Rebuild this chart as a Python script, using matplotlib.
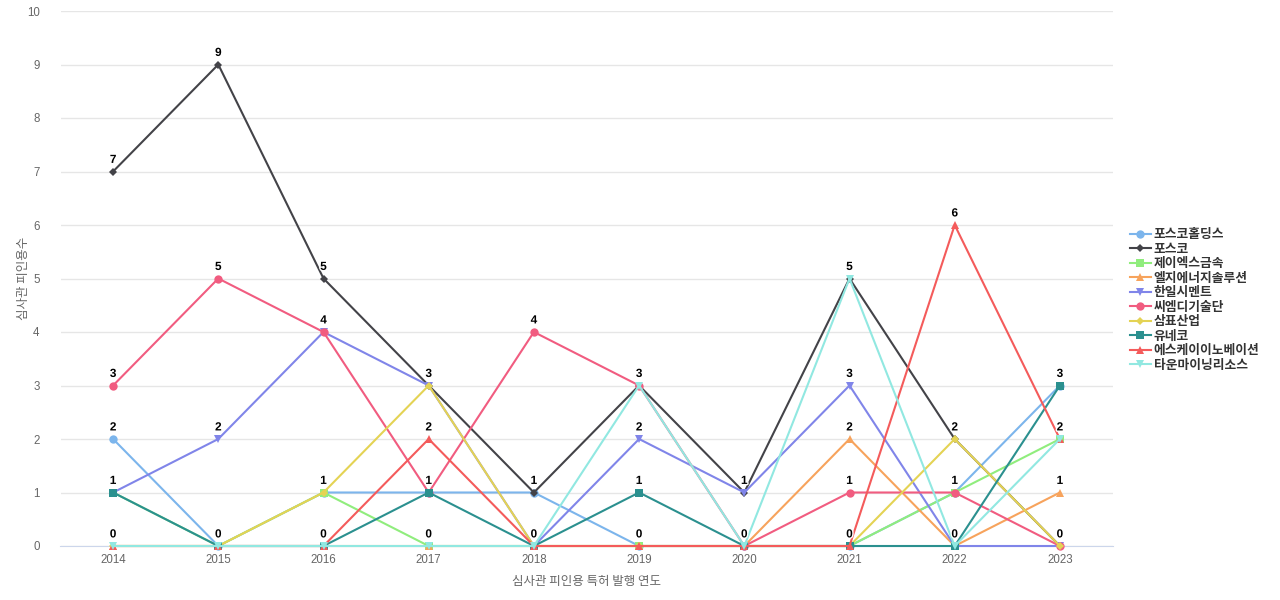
import matplotlib
matplotlib.use("Agg")
import matplotlib.pyplot as plt
import matplotlib.patheffects as pe

plt.rcParams['font.family'] = ['Noto Sans CJK KR', 'DejaVu Sans']

years = [2014, 2015, 2016, 2017, 2018, 2019, 2020, 2021, 2022, 2023]
names = ["포스코홀딩스", "포스코", "제이엑스금속", "엘지에너지솔루션", "한일시멘트",
         "씨엠디기술단", "삼표산업", "유네코", "에스케이이노베이션", "타운마이닝리소스"]
posco_holdings = [2, 0, 1, 1, 1, 0, 0, 0, 1, 3]
posco = [7, 9, 5, 3, 1, 3, 1, 5, 2, 0]
jx_metal = [1, 0, 1, 0, 0, 0, 0, 0, 1, 2]
lg_energy = [0, 0, 0, 0, 0, 0, 0, 2, 0, 1]
hanil = [1, 2, 4, 3, 0, 2, 1, 3, 0, 0]
cmd = [3, 5, 4, 1, 4, 3, 0, 1, 1, 0]
sampyo = [0, 0, 1, 3, 0, 0, 0, 0, 2, 0]
uneco = [1, 0, 0, 1, 0, 1, 0, 0, 0, 3]
sk_inno = [0, 0, 0, 2, 0, 0, 0, 0, 6, 2]
town_mining = [0, 0, 0, 0, 0, 3, 0, 5, 0, 2]
series = [posco_holdings, posco, jx_metal, lg_energy, hanil, cmd, sampyo, uneco, sk_inno, town_mining]

colors = ["#7cb5ec", "#434348", "#90ed7d", "#f7a35c", "#8085e9",
          "#f15c80", "#e4d354", "#2b908f", "#f45b5b", "#91e8e1"]
markers = ["o", "D", "s", "^", "v", "o", "D", "s", "^", "v"]
msizes = [6, 4.5, 5.5, 6, 6, 6, 4.5, 5.5, 6, 6]

fig = plt.figure(figsize=(12.8, 6), dpi=100)
ax = fig.add_axes([60.5 / 1280, 1 - 546 / 600, (1112.5 - 60.5) / 1280, (546 - 11) / 600])

x = list(range(len(years)))
for i, (name, vals) in enumerate(zip(names, series)):
    ax.plot(x, vals, color=colors[i], lw=1.5, marker=markers[i], ms=msizes[i],
            markeredgewidth=0, label=name, zorder=3 + i * 0.01, clip_on=False)

# data labels (unique values per year)
for j in range(len(years)):
    vals = sorted(set(s[j] for s in series))
    for v in vals:
        ax.annotate(str(v), (x[j], v), xytext=(0, 4), textcoords='offset points',
                    ha='center', va='bottom', fontsize=8.5, fontweight='bold', color='black',
                    family=['Liberation Sans', 'DejaVu Sans'],
                    path_effects=[pe.withStroke(linewidth=2, foreground='white')], zorder=10)

ax.set_xlim(-0.5, len(years) - 0.5)
ax.set_ylim(0, 10)
ax.set_yticks(range(0, 11))
ax.set_xticks(x)
ax.set_xticklabels([str(y) for y in years])
ax.grid(axis='y', color='#e6e6e6', lw=1)
ax.set_axisbelow(True)
for s in ['top', 'right', 'left']:
    ax.spines[s].set_visible(False)
ax.spines['bottom'].set_color('#ccd6eb')
ax.tick_params(axis='both', length=0, colors='#666666', labelsize=8.3)
ax.tick_params(axis='x', pad=6)
ax.tick_params(axis='y', pad=15)
for lab in ax.get_xticklabels() + ax.get_yticklabels():
    lab.set_family(['Liberation Sans', 'DejaVu Sans'])

ax.set_xlabel("심사관 피인용 특허 발행 연도", color='#666666', fontsize=9, labelpad=6)
ax.set_ylabel("심사관 피인용수", color='#666666', fontsize=9, labelpad=-2)

leg = ax.legend(loc='center left', bbox_to_anchor=(1.012, 0.46), frameon=False,
                prop={'size': 9.2, 'weight': 'bold'}, handlelength=1.6, labelspacing=0.12,
                handletextpad=0.25, borderaxespad=0)
for t in leg.get_texts():
    t.set_color('#333333')

fig.savefig("out.png", dpi=100)
